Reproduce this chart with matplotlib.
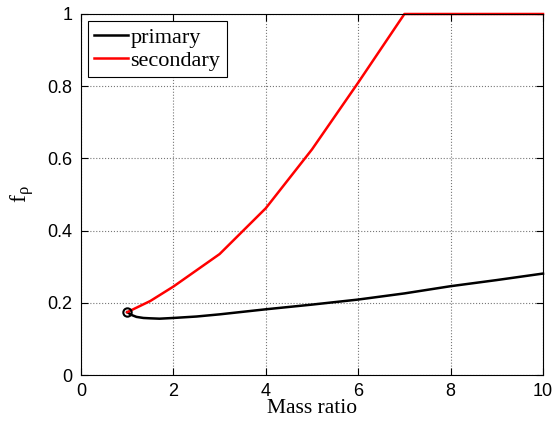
import matplotlib
matplotlib.use('Agg')
import matplotlib.pyplot as plt

# mass ratio vs f_rho for both components
q_primary = [1.0, 1.1, 1.2, 1.35, 1.5, 1.7, 2.0, 2.5, 3.0, 4.0, 5.0, 6.0, 7.0, 8.0, 9.0, 10.0]
f_primary = [0.174, 0.166, 0.161, 0.158, 0.157, 0.156, 0.158, 0.162, 0.168, 0.182, 0.195, 0.209, 0.226, 0.246, 0.263, 0.281]
q_secondary = [1.0, 1.5, 2.0, 2.5, 3.0, 4.0, 5.0, 6.0, 7.0, 10.0]
f_secondary = [0.174, 0.205, 0.245, 0.29, 0.335, 0.462, 0.625, 0.81, 1.0, 1.0]

plt.rcParams['mathtext.fontset'] = 'custom'
plt.rcParams['mathtext.rm'] = 'Liberation Serif'

fig = plt.figure(figsize=(5.58, 4.24), dpi=100)
ax = fig.add_axes([81/558, 49/424, 462/558, 361/424])

ax.plot(q_primary, f_primary, color='black', lw=1.8, label='primary', clip_on=False)
ax.plot(q_secondary, f_secondary, color='red', lw=1.8, label='secondary', clip_on=False)
ax.plot(q_primary[0], f_primary[0], 'o', mfc='none', mec='black', mew=1.5, ms=6)

ax.set_xlim(0, 10)
ax.set_ylim(0, 1)
ax.set_xticks([0, 2, 4, 6, 8, 10])
ax.set_yticks([0, 0.2, 0.4, 0.6, 0.8, 1])
ax.set_yticklabels(['0', '0.2', '0.4', '0.6', '0.8', '1'])
ax.tick_params(direction='in', length=5, width=0.8, top=True, right=True,
               labelsize=13, pad=6)
for lbl in ax.get_xticklabels() + ax.get_yticklabels():
    lbl.set_family('Liberation Sans')
ax.grid(True, linestyle=':', color='#777777', lw=0.8)
for s in ax.spines.values():
    s.set_linewidth(0.8)

ax.set_xlabel('Mass ratio', family='Liberation Serif', fontsize=15.5, labelpad=-1)
ax.set_ylabel(r'$\mathrm{f_ρ}$', fontsize=17, labelpad=8)

leg = ax.legend(loc='upper left', prop={'family': 'Liberation Serif', 'size': 16},
                fancybox=False, edgecolor='black', framealpha=1,
                handlelength=1.5, borderpad=0.3, labelspacing=0.1,
                handletextpad=0.12, borderaxespad=0.3)
leg.get_frame().set_linewidth(0.8)

fig.savefig('out.png', dpi=100)
